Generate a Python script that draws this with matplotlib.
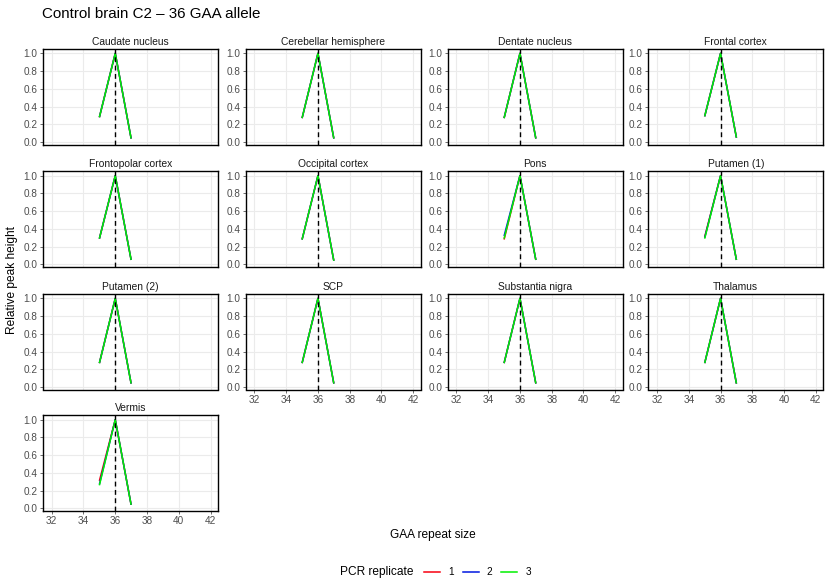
import matplotlib
matplotlib.use("Agg")
import matplotlib.pyplot as plt
from matplotlib.lines import Line2D

plt.rcParams['font.family'] = ['Liberation Sans', 'DejaVu Sans']

# Repeat sizes measured and the reference allele
repeat_sizes = [35, 36, 37]
allele_size = 36

regions = [
    "Caudate nucleus", "Cerebellar hemisphere", "Dentate nucleus", "Frontal cortex",
    "Frontopolar cortex", "Occipital cortex", "Pons", "Putamen (1)",
    "Putamen (2)", "SCP", "Substantia nigra", "Thalamus",
    "Vermis",
]

# Relative peak heights at 35, 36, 37 repeats for each PCR replicate
rep1 = [
    [0.28, 1.0, 0.04], [0.27, 1.0, 0.04], [0.27, 1.0, 0.04], [0.29, 1.0, 0.05],
    [0.29, 1.0, 0.05], [0.28, 1.0, 0.04], [0.28, 1.0, 0.05], [0.31, 1.0, 0.05],
    [0.27, 1.0, 0.04], [0.27, 1.0, 0.04], [0.27, 1.0, 0.04], [0.27, 1.0, 0.04],
    [0.31, 1.0, 0.04],
]
rep2 = [
    [0.28, 1.0, 0.04], [0.27, 1.0, 0.04], [0.27, 1.0, 0.04], [0.29, 1.0, 0.05],
    [0.29, 1.0, 0.05], [0.28, 1.0, 0.04], [0.32, 1.0, 0.05], [0.30, 1.0, 0.05],
    [0.27, 1.0, 0.04], [0.27, 1.0, 0.04], [0.27, 1.0, 0.04], [0.27, 1.0, 0.04],
    [0.27, 1.0, 0.04],
]
rep3 = [
    [0.28, 1.0, 0.04], [0.27, 1.0, 0.04], [0.27, 1.0, 0.04], [0.29, 1.0, 0.05],
    [0.29, 1.0, 0.05], [0.28, 1.0, 0.04], [0.29, 1.0, 0.05], [0.29, 1.0, 0.05],
    [0.27, 1.0, 0.04], [0.27, 1.0, 0.04], [0.27, 1.0, 0.04], [0.27, 1.0, 0.04],
    [0.26, 1.0, 0.04],
]
replicates = ["1", "2", "3"]
rep_colors = ["#F8000F", "#0018E0", "#00F000"]

x_ticks = [32, 34, 36, 38, 40, 42]
y_ticks = [0.0, 0.2, 0.4, 0.6, 0.8, 1.0]

W, H = 825, 581
fig = plt.figure(figsize=(W / 100, H / 100), dpi=100)

col_left = [43, 245.7, 447.7, 648.3]
row_top = [49, 171.3, 294, 415.3]
pw, ph = 175, 95.5

ncol = 4
n = len(regions)
for i, region in enumerate(regions):
    r, c = divmod(i, ncol)
    ax = fig.add_axes([col_left[c] / W, 1 - (row_top[r] + ph) / H, pw / W, ph / H])
    ax.set_xlim(31.45, 42.47)
    ax.set_ylim(-0.027, 1.049)
    ax.set_xticks(x_ticks)
    ax.set_yticks(y_ticks)
    ax.set_yticklabels([f"{v:.1f}" for v in y_ticks])
    ax.grid(True, color="#EBEBEB", lw=0.8, zorder=0)
    ax.set_axisbelow(True)
    for s in ax.spines.values():
        s.set_color("black")
        s.set_linewidth(1.0)
    ax.tick_params(axis='both', length=2.0, width=0.5, color="#333333",
                   labelsize=7.2, labelcolor="#4D4D4D", pad=2)
    # only the bottom panel of each column carries an x axis
    if i + ncol < n:
        ax.tick_params(axis='x', labelbottom=False, length=0)
    for reps, col, lab in zip([rep1, rep2, rep3], rep_colors, replicates):
        ax.plot(repeat_sizes, reps[i], color=col, lw=1.1, zorder=3,
                solid_capstyle='butt', label=lab)
    ax.axvline(allele_size, color="black", lw=1.0, ls=(0, (3.5, 2.5)), zorder=4)
    ax.set_title(region, fontsize=7.4, color="#1A1A1A", pad=3.0)

fig.text(42 / W, 1 - 14 / H, "Control brain C2 \u2013 36 GAA allele",
         fontsize=10.9, color="black", va="center", ha="left")
fig.text(433 / W, 1 - 535 / H, "GAA repeat size", fontsize=8.6,
         ha="center", va="center")
fig.text(12.5 / W, 1 - 280 / H, "Relative peak height", fontsize=8.6,
         ha="center", va="center", rotation=90)

fig.text(414 / W, 1 - 572 / H, "PCR replicate", fontsize=8.6,
         ha="right", va="center")
leg_handles = [Line2D([], [], color=c, lw=1.1) for c in rep_colors]
fig.legend(leg_handles, replicates, loc="center left",
           bbox_to_anchor=(424 / W, 1 - 572 / H), ncol=3, frameon=False,
           fontsize=7.2, handlelength=1.6, handletextpad=0.8,
           columnspacing=0.9, borderpad=0, borderaxespad=0)

fig.savefig("out.png", dpi=100, facecolor="white")
